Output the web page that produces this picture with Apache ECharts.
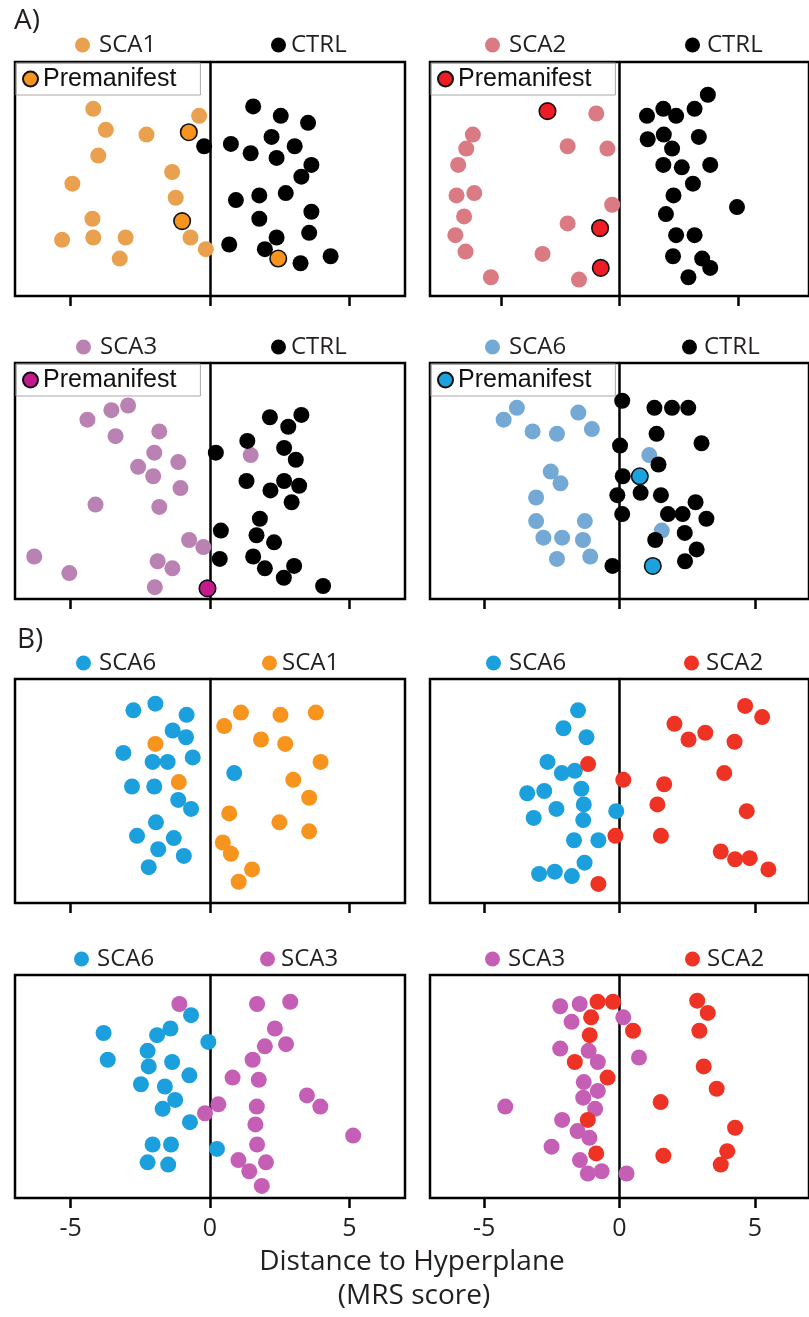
<!DOCTYPE html>
<html><head><meta charset="utf-8">
<script src="https://cdn.jsdelivr.net/npm/echarts@6/dist/echarts.min.js"></script>
<style>html,body{margin:0;padding:0;background:#fff;}#c{width:809px;height:1317px;}</style>
</head><body><div id="c"></div>
<script>
// tick labels on the distance axis
const tickValues = [-5, 0, 5];

// Panel A1: SCA1 vs CTRL  ([distance, vertical jitter 0-100])
const a1Sca1 = [[-4.19,80],[-0.39,77],[-3.74,71],[-2.28,69],[-4.01,60],[-1.36,53],[-4.94,48],[-1.23,42],[-4.22,33],[-5.31,24],[-4.19,25],[-3.03,25],[-0.70,25],[-0.15,20],[-3.24,16]];
const a1Pre = [[-0.76,70],[-1.00,32],[2.45,16]];
const a1Ctrl = [[1.55,81],[2.54,77],[3.52,74],[2.21,68],[3.04,64],[-0.21,64],[0.75,65],[1.46,61],[2.39,59],[3.64,56],[3.28,51],[1.77,43],[2.72,44],[0.93,41],[3.64,36],[1.77,33],[3.56,27],[2.39,25],[0.69,22],[1.97,20],[3.25,14],[4.33,17]];

// Panel A2: SCA2 vs CTRL
const a2Sca2 = [[-0.98,78],[-6.19,69],[-6.47,63],[-2.19,64],[-0.51,63],[-6.81,56],[-6.88,43],[-6.13,44],[-0.31,39],[-6.56,34],[-2.19,31],[-6.93,26],[-6.50,19],[-3.25,18],[-5.43,8],[-1.71,7]];
const a2Pre = [[-3.04,79],[-0.82,29],[-0.79,12]];
const a2Ctrl = [[3.73,86],[1.85,80],[3.17,80],[1.16,77],[2.39,77],[1.19,67],[1.87,69],[3.35,68],[2.22,63],[1.85,56],[2.63,55],[3.83,56],[3.10,48],[2.28,43],[4.96,38],[1.96,35],[2.39,26],[3.17,26],[2.26,17],[3.49,16],[3.83,12],[2.91,8]];

// Panel A3: SCA3 vs CTRL
const a3Sca3 = [[-2.94,82],[-3.54,80],[-4.40,76],[-3.39,69],[-1.82,71],[-2.00,62],[-1.14,58],[-2.58,56],[-2.04,52],[-1.06,47],[-4.11,40],[-1.82,39],[-0.75,25],[-0.24,22],[-6.31,18],[-1.88,16],[-1.35,13],[-5.05,11],[-1.98,5],[1.46,61]];
const a3Pre = [[-0.09,4.5]];
const a3Ctrl = [[3.28,78],[2.15,77],[2.81,73],[1.34,67],[2.66,64],[0.21,62],[3.08,59],[1.31,50],[2.66,50],[3.20,48],[2.17,46],[2.93,41],[1.79,34],[0.39,29],[1.67,27],[2.30,24],[0.35,17],[1.55,18],[1.97,13],[3.02,14],[2.65,9],[4.06,5.5]];

// Panel A4: SCA6 vs CTRL
const a4Sca6 = [[-3.79,81],[-4.28,76],[-1.52,79],[-3.21,71],[-2.31,70],[-1.02,72],[-2.54,54],[-2.18,49],[-3.08,43],[-3.08,33],[-1.28,33],[-2.81,26],[-2.12,26],[-1.35,25],[-2.31,17],[-1.08,18],[1.10,61],[1.56,29]];
const a4Pre = [[0.75,52],[1.23,14]];
const a4Ctrl = [[0.10,84],[1.29,81],[1.94,81],[2.54,81],[1.37,70],[3.03,66],[0.02,65],[1.44,57],[0.12,52],[-0.08,44],[0.78,45],[1.53,44],[2.81,41],[0.10,36],[1.79,36],[2.33,36],[3.21,34],[2.41,28],[1.32,25],[2.85,21],[2.42,16],[-0.26,14]];

// Panel B1: SCA6 vs SCA1
const b1Sca6 = [[-1.96,89],[-2.75,86],[-0.84,84],[-1.34,77],[-0.86,74],[-3.11,67],[-2.06,63],[-1.52,63],[-0.62,65],[-2.80,52],[-2.00,52],[-1.14,46],[-0.68,42],[-1.94,36],[-2.62,30],[-1.30,29],[-1.86,24],[-0.94,21],[-2.20,16],[0.87,58]];
const b1Sca1 = [[-1.96,71],[-1.12,54],[0.51,79],[1.11,85],[2.53,84],[3.80,85],[1.83,73],[2.70,71],[3.97,63],[2.99,55],[3.56,47],[0.69,40],[2.49,36],[3.56,32],[0.46,27],[0.75,22],[1.51,15],[1.03,9.5]];

// Panel B2: SCA6 vs SCA2
const b2Sca6 = [[-1.53,86],[-2.07,78],[-1.22,74],[-2.66,63],[-2.13,58],[-1.65,59],[-2.78,50],[-3.41,49],[-1.41,51],[-2.33,42],[-1.32,44],[-3.17,38],[-1.34,37],[-0.12,41],[-1.68,28],[-0.78,28],[-1.29,18],[-2.97,13],[-2.39,14],[-1.76,12]];
const b2Sca2 = [[-1.16,62],[4.64,88],[5.27,83],[2.03,80],[2.55,73],[3.17,76],[4.25,72],[3.87,58],[0.14,55],[1.65,53],[1.40,44],[4.70,41],[-0.15,30],[1.53,30],[3.74,23],[4.27,19.5],[4.81,20],[5.50,15],[-0.78,8.5]];

// Panel B3: SCA6 vs SCA3
const b3Sca6 = [[-0.68,82],[-1.42,76],[-3.82,74],[-1.90,73],[-0.06,70],[-2.24,66],[-3.67,62],[-1.36,61],[-2.20,59],[-0.74,55],[-2.48,51],[-1.62,50],[-1.25,44],[-1.70,40],[-0.72,34],[-2.06,24],[-1.40,24],[0.25,22],[-2.24,16],[-1.50,15]];
const b3Sca3 = [[-1.10,87],[1.69,87],[2.88,88],[2.33,76],[1.97,68],[2.73,69],[1.53,62],[0.81,54],[1.75,53],[3.48,46],[3.96,41],[0.30,42],[-0.18,38],[1.68,41],[1.63,33],[5.14,28],[1.69,24],[1.02,17],[2.01,16],[1.41,12],[1.86,5.4]];

// Panel B4: SCA3 vs SCA2
const b4Sca3 = [[-2.19,86],[-1.47,87],[-1.77,79],[0.14,81],[-2.19,67],[-1.14,66],[-0.80,61],[0.72,63],[-1.32,52],[-0.80,48],[-1.34,45],[-4.22,41],[-0.90,40],[-2.12,35],[-1.55,30],[-1.11,27],[-2.51,23],[-1.46,17],[-1.17,11],[-0.66,12],[0.26,11]];
const b4Sca2 = [[-0.81,88],[-0.24,88],[-1.05,81],[-1.10,73],[0.50,75],[-1.65,61],[-0.44,54],[-1.17,35],[-0.86,20],[2.87,88.5],[3.26,83],[2.95,75],[3.11,59],[3.59,49],[1.52,43],[4.27,31.5],[3.98,21],[1.62,19],[3.74,15]];

const C = {
  sca1L:'#E9A04F', sca1P:'#F7941E',
  sca2L:'#DA7A83', sca2P:'#EE1D25',
  sca3L:'#B982B3', sca3P:'#C41A8D',
  sca6L:'#74A9D5', sca6P:'#1CA3DF',
  ctrl:'#000000',
  b6:'#1B9FDD', b1:'#F7941D', b2:'#EE3325', b3:'#C55EB5'
};

const panels = [
  {id:'A1', left:15, top:62, height:234, xr:[-7,7], bottom:false,
   series:[['SCA1',a1Sca1,C.sca1L,false],['CTRL',a1Ctrl,C.ctrl,false],['Premanifest',a1Pre,C.sca1P,true]],
   legends:[['SCA1',75,45,4],['CTRL',271,45,0]], pre:[16,63]},
  {id:'A2', left:430, top:62, height:234, xr:[-8,8], bottom:false,
   series:[['SCA2',a2Sca2,C.sca2L,false],['CTRL',a2Ctrl,C.ctrl,false],['Premanifest',a2Pre,C.sca2P,true]],
   legends:[['SCA2',485,45,4],['CTRL',685,45,2]], pre:[431,63]},
  {id:'A3', left:15, top:363, height:236, xr:[-7,7], bottom:false,
   series:[['SCA3',a3Sca3,C.sca3L,false],['CTRL',a3Ctrl,C.ctrl,false],['Premanifest',a3Pre,C.sca3P,true]],
   legends:[['SCA3',76,347,4],['CTRL',271,347,0]], pre:[16,364]},
  {id:'A4', left:430, top:363, height:236, xr:[-7,7], bottom:false,
   series:[['SCA6',a4Sca6,C.sca6L,false],['CTRL',a4Ctrl,C.ctrl,false],['Premanifest',a4Pre,C.sca6P,true]],
   legends:[['SCA6',485,347,4],['CTRL',682,347,2]], pre:[431,364]},
  {id:'B1', left:15, top:679, height:224, xr:[-7,7], bottom:false,
   series:[['SCA6',b1Sca6,C.b6,false],['SCA1',b1Sca1,C.b1,false]],
   legends:[['SCA6',76,663,3],['SCA1',262,663,0]]},
  {id:'B2', left:430, top:679, height:224, xr:[-7,7], bottom:false,
   series:[['SCA6',b2Sca6,C.b6,false],['SCA2',b2Sca2,C.b2,false]],
   legends:[['SCA6',486,663,3],['SCA2',684,663,2]]},
  {id:'B3', left:15, top:975, height:223, xr:[-7,7], bottom:true,
   series:[['SCA6',b3Sca6,C.b6,false],['SCA3',b3Sca3,C.b3,false]],
   legends:[['SCA6',74,959,3],['SCA3',260,959,1]]},
  {id:'B4', left:430, top:975, height:223, xr:[-7,7], bottom:true,
   series:[['SCA3',b4Sca3,C.b3,false],['SCA2',b4Sca2,C.b2,false]],
   legends:[['SCA3',485,959,3],['SCA2',685,959,2]]}
];

const strip = n => n.slice(3);
const grid = [], xAxis = [], yAxis = [], series = [], legend = [];
panels.forEach((p, i) => {
  grid.push({left:p.left, top:p.top, width:390, height:p.height, show:true,
    borderColor:'#000', borderWidth:2.5, backgroundColor:'transparent', containLabel:false});
  xAxis.push({gridIndex:i, type:'value', min:p.xr[0], max:p.xr[1],
    axisLine:{show:false}, splitLine:{show:false},
    axisTick:{show:true, customValues:tickValues, length:10, inside:false, lineStyle:{color:'#000', width:2.5}},
    axisLabel:{show:p.bottom, customValues:tickValues, fontSize:25, fontFamily:'Open Sans', color:'#231F20', margin:18}});
  yAxis.push({gridIndex:i, type:'value', min:0, max:100,
    axisLine:{show:true, onZero:true, lineStyle:{color:'#000', width:2.5}},
    axisTick:{show:false}, axisLabel:{show:false}, splitLine:{show:false}});
  p.series.forEach(s => {
    const name = p.id + ' ' + s[0];
    series.push({type:'scatter', name:name, xAxisIndex:i, yAxisIndex:i, data:s[1],
      symbol:'circle', symbolSize:s[3] ? 16.5 : 16,
      itemStyle:{color:s[2], opacity:1, borderColor:s[3] ? '#111' : s[2], borderWidth:s[3] ? 1.6 : 0},
      emphasis:{disabled:true}, z:s[3] ? 4 : 2});
  });
  p.legends.forEach(l => {
    legend.push({left:l[1], top:l[2]-12, data:[p.id + ' ' + l[0]], icon:'circle',
      itemWidth:15, itemHeight:15, padding:0, selectedMode:false, formatter:strip,
      textStyle:{fontFamily:'Open Sans', fontSize:24, color:'#231F20', lineHeight:24, padding:[0,0,0,l[3]]}});
  });
  if (p.pre) {
    legend.push({left:p.pre[0], top:p.pre[1], data:[p.id + ' Premanifest'], icon:'circle',
      itemWidth:15, itemHeight:15, padding:[3,24,3,6], selectedMode:false, formatter:strip,
      borderColor:'#A8A8A8', borderWidth:1, backgroundColor:'transparent',
      textStyle:{fontFamily:'Liberation Sans', fontSize:25, color:'#111', lineHeight:26}});
  }
});

const chart = echarts.init(document.getElementById('c'), null, {renderer:'canvas'});
chart.setOption({
  animation:false,
  backgroundColor:'#fff',
  grid, xAxis, yAxis, series, legend,
  graphic:[
    {type:'text', left:14, top:7, style:{text:'A)', font:'28px "Open Sans"', fill:'#231F20'}},
    {type:'text', left:17, top:626, style:{text:'B)', font:'28px "Open Sans"', fill:'#231F20'}},
    {type:'text', x:412, y:1262, style:{text:'Distance to Hyperplane', font:'28px "Open Sans"', fill:'#231F20', align:'center', verticalAlign:'middle'}},
    {type:'text', x:414, y:1296, style:{text:'(MRS score)', font:'28px "Open Sans"', fill:'#231F20', align:'center', verticalAlign:'middle'}}
  ]
});
</script></body></html>
